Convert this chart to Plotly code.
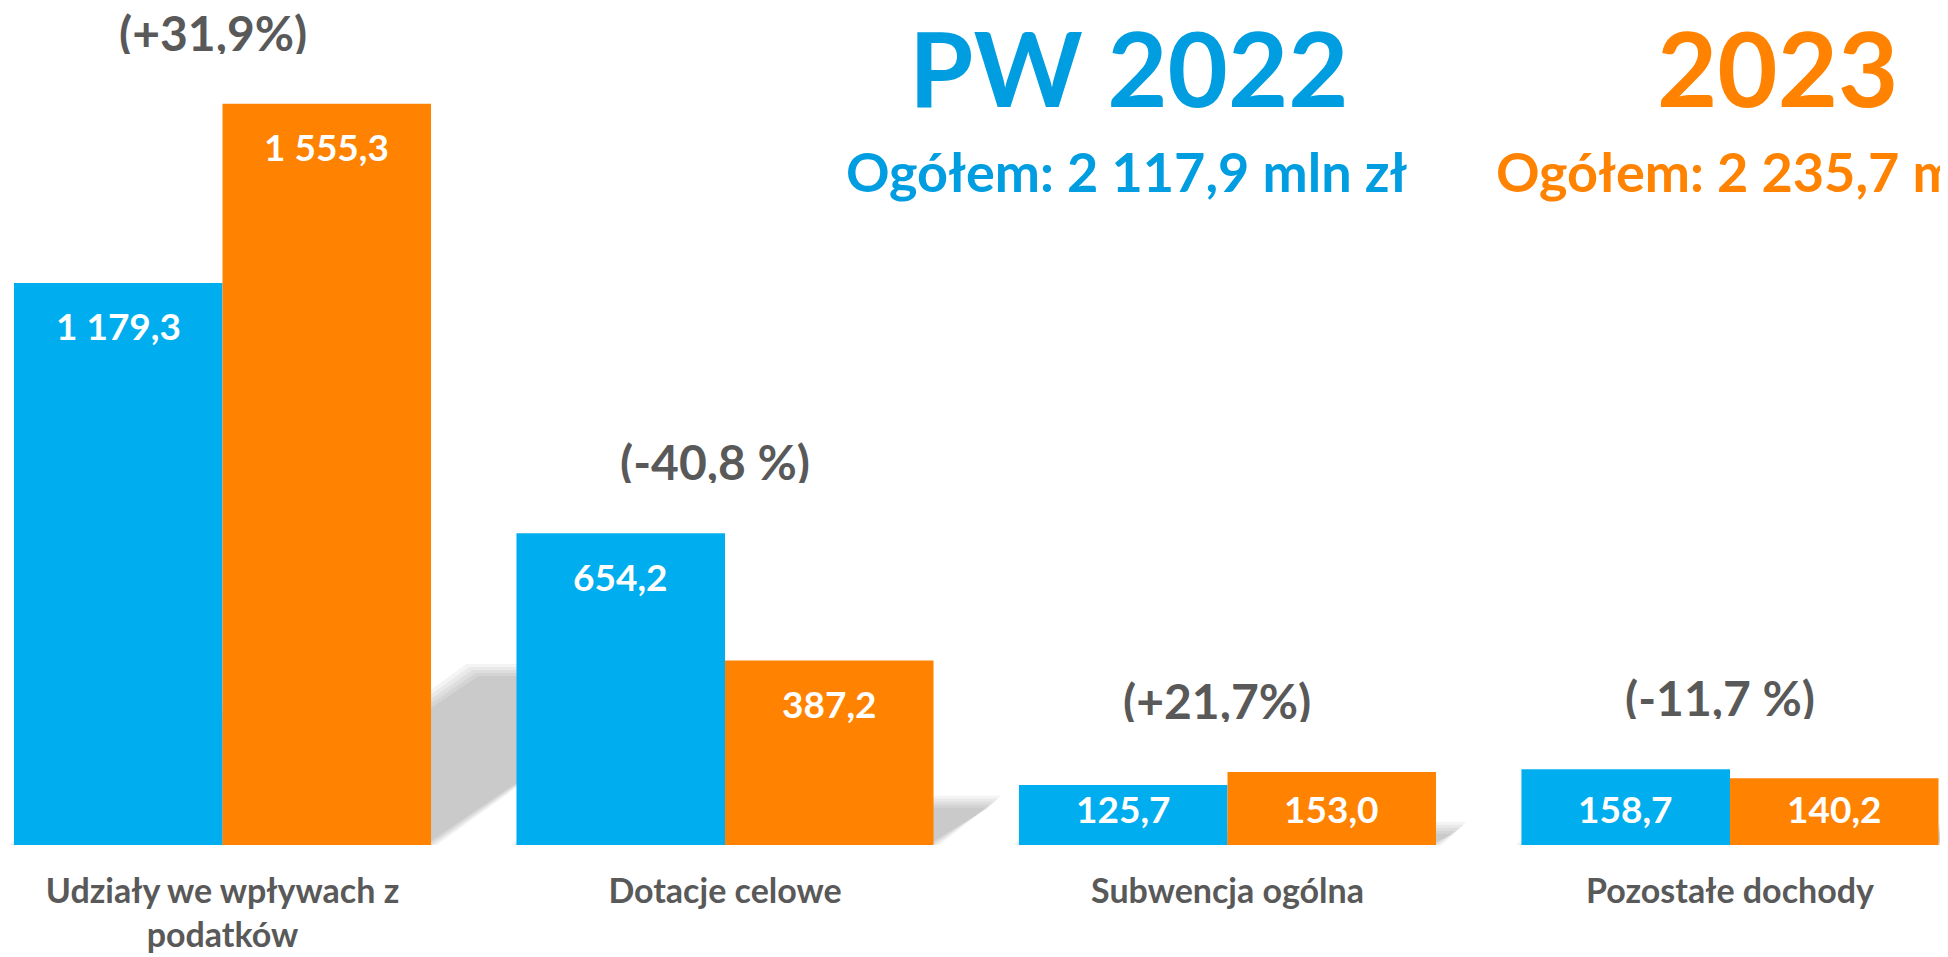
import plotly.graph_objects as go

# ---------------- data ----------------
categories = ["Udziały we wpływach z<br>podatków", "Dotacje celowe",
              "Subwencja ogólna", "Pozostałe dochody"]
values_2022 = [1179.3, 654.2, 125.7, 158.7]
values_2023 = [1555.3, 387.2, 153.0, 140.2]
labels_2022 = ["1 179,3", "654,2", "125,7", "158,7"]
labels_2023 = ["1 555,3", "387,2", "153,0", "140,2"]
change_labels = ["(+31,9%)", "(-40,8 %)", "(+21,7%)", "(-11,7 %)"]
title_2022 = "PW 2022"
title_2023 = "2023"
total_2022 = "Ogółem: 2 117,9 mln zł"
total_2023 = "Ogółem: 2 235,7 mln zł"

# ---------------- style ----------------
BLUE = "#00AEEF"
ORANGE = "#FF8200"
TITLE_BLUE = "#009DE0"
GRAY = "#595959"
FONT = "Lato"
W, H = 1948, 957
MB = 120
X_RANGE = [-0.4269, 3.4498]
Y_RANGE = [0, 1756.2]
BARGAP = 0.17

PLOT_W = W
PLOT_H = H - MB
X_PX = PLOT_W / (X_RANGE[1] - X_RANGE[0])   # px per category unit
Y_PX = PLOT_H / (Y_RANGE[1] - Y_RANGE[0])   # px per value unit
HALF = (1 - BARGAP) / 2                       # width of one bar

xs = list(range(len(categories)))

fig = go.Figure()
fig.add_trace(go.Bar(x=xs, y=values_2022, name="PW 2022", marker_color=BLUE,
                     marker_line_width=0, hoverinfo="skip"))
fig.add_trace(go.Bar(x=xs, y=values_2023, name="2023", marker_color=ORANGE,
                     marker_line_width=0, hoverinfo="skip"))

# ---------------- soft perspective shadows ----------------
SHEAR = 0.337
SCALE = 0.236
shapes = []
for i in xs:
    for v, left in ((values_2022[i], i - HALF), (values_2023[i], i)):
        right = left + HALF
        h_px = v * Y_PX
        sx = SHEAR * h_px / X_PX
        top = SCALE * v
        for d in (-6, -3, 0, 3, 6):
            dx = d / X_PX
            dy = d / Y_PX
            pts = [(left - dx, 0), (right + dx, 0),
                   (right + sx + dx, top + dy), (left + sx - dx, top + dy)]
            path = "M " + " L ".join(f"{px:.5f},{py:.3f}" for px, py in pts) + " Z"
            shapes.append(dict(type="path", path=path, xref="x", yref="y",
                               fillcolor="rgba(0,0,0,0.045)", line_width=0,
                               layer="below"))

# ---------------- annotations ----------------
ann = []
for i in xs:
    for v, lab, cx in ((values_2022[i], labels_2022[i], i - HALF / 2),
                       (values_2023[i], labels_2023[i], i + HALF / 2)):
        if v * Y_PX > 100:
            y, ys = v, -43
        else:
            y, ys = 0, 37
        ann.append(dict(x=cx, y=y, yshift=ys, text=lab, showarrow=False,
                        xanchor="center", yanchor="middle",
                        font=dict(family=FONT, size=37, color="white", weight="bold")))
    top = max(values_2022[i], values_2023[i])
    ann.append(dict(x=i, y=top, yshift=72, xshift=-10, text=change_labels[i],
                    showarrow=False, xanchor="center", yanchor="middle",
                    height=44, valign="middle",
                    font=dict(family=FONT, size=48, color=GRAY, weight="bold")))

for txt, cx, col in ((title_2022, 1121, TITLE_BLUE), (title_2023, 1769, ORANGE)):
    ann.append(dict(xref="paper", yref="paper", x=cx / W, y=1 - 58 / PLOT_H,
                    text=txt, showarrow=False, xanchor="center", yanchor="middle",
                    height=92, valign="middle",
                    font=dict(family=FONT, size=104, color=col, weight="bold")))
for txt, cx, col in ((total_2022, 1119, TITLE_BLUE), (total_2023, 1769, ORANGE)):
    ann.append(dict(xref="paper", yref="paper", x=cx / W, y=1 - 163 / PLOT_H,
                    text=txt, showarrow=False, xanchor="center", yanchor="middle",
                    font=dict(family=FONT, size=54, color=col, weight="bold")))

fig.update_layout(
    width=W, height=H,
    margin=dict(l=0, r=0, t=0, b=MB, pad=0),
    paper_bgcolor="white", plot_bgcolor="white",
    barmode="group", bargap=BARGAP, bargroupgap=0,
    showlegend=False,
    shapes=shapes, annotations=ann,
    xaxis=dict(range=X_RANGE, tickmode="array", tickvals=xs, ticktext=categories,
               showgrid=False, zeroline=False, showline=False, ticks="",
               ticklabelstandoff=23,
               tickfont=dict(family=FONT, size=34, color=GRAY, weight="bold"),
               fixedrange=True),
    yaxis=dict(range=Y_RANGE, visible=False, showgrid=False, zeroline=False,
               fixedrange=True),
)

fig.write_html("out.html")
